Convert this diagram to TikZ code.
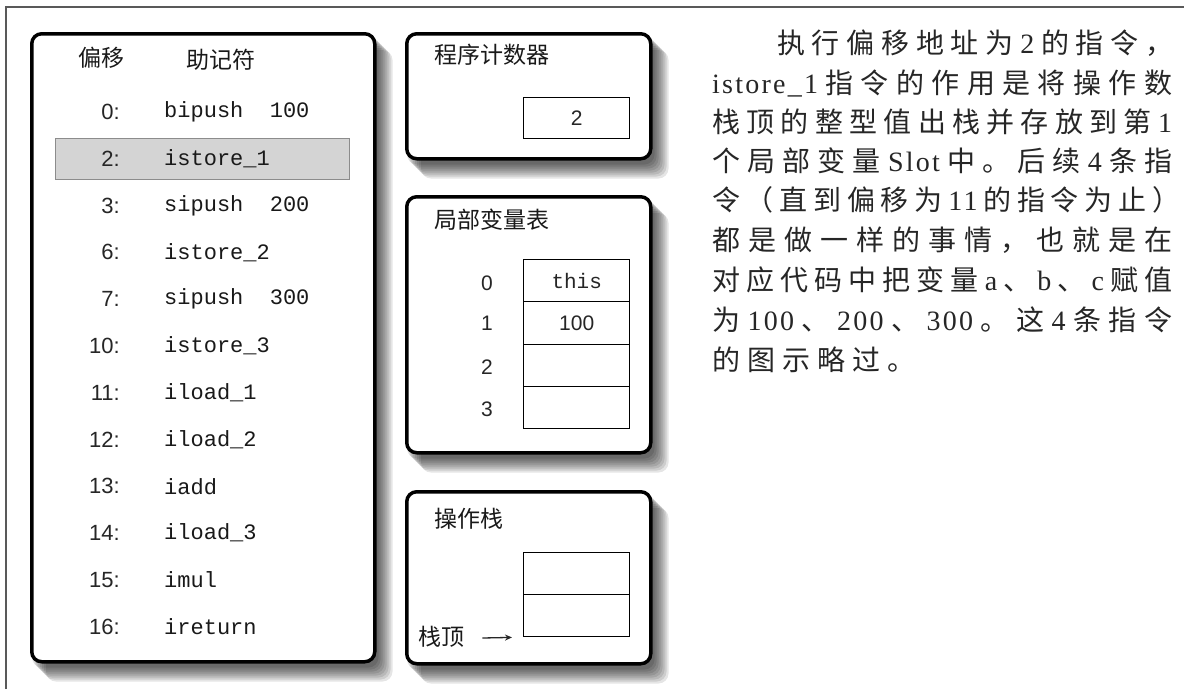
\documentclass[tikz,border=0pt]{standalone}
\usepackage{fontspec}
\usetikzlibrary{arrows.meta}
\newfontfamily\cjk{Noto Sans CJK SC}
\newfontfamily\plat[LetterSpace=8]{Liberation Serif}
\newfontfamily\monof{Liberation Mono}
\newfontfamily\sansf{Liberation Sans}
\makeatletter
\newcommand\jline[2]{\makebox[#1][s]{\cjk\@tfor\jx:=#2\do{{\jx}\hfil}\unskip}}
\newcommand\nline[1]{{\cjk\@tfor\jx:=#1\do{{\jx}\hspace{7pt}}\unskip}}
\makeatother
\pgfdeclarelayer{bg}
\pgfsetlayers{bg,main}
\newcommand\shadowof[1]{%
  \foreach \d in {2,4,...,16}{%
    \fill[black, opacity=0.1, rounded corners=10pt]
      ([shift={(\d pt,-\d pt-2pt)}]#1.north west) rectangle ([shift={(\d pt,-\d pt-2pt)}]#1.south east);}}
\tikzset{
  panel/.style={draw=black, line width=3.5pt, rounded corners=10pt, fill=white, anchor=north west, inner sep=0pt},
  cell/.style={draw=black, line width=1.4pt, anchor=north west, inner sep=0pt, minimum width=106pt, font=\sansf\fontsize{21}{23}\selectfont, text=black!85},
  title/.style={anchor=west, inner sep=0pt, font=\cjk\fontsize{23}{25}\selectfont, text=black!90},
  offs/.style={anchor=east, inner sep=0pt, font=\sansf\fontsize{22}{24}\selectfont, text=black!85},
  mnem/.style={anchor=west, inner sep=0pt, font=\monof\fontsize{22}{24}\selectfont, text=black!90},
  idx/.style={inner sep=0pt, font=\sansf\fontsize{21}{23}\selectfont, text=black!85},
  para/.style={anchor=west, inner sep=0pt, font=\fontsize{28}{30}\selectfont, text=black!85},
}
\begin{document}
\begin{tikzpicture}[x=1pt,y=-1pt]
\useasboundingbox (0,0) rectangle (1184,689);
\begin{pgfonlayer}{bg}
\fill[white] (0,0) rectangle (1184,689);
\end{pgfonlayer}
% outer frame (top and left edges visible)
\draw[line width=2pt, black!65] (6,689) -- (6,7) -- (1184,7);

% left panel
\node[panel, minimum width=343pt, minimum height=628pt] (lbox) at (30,32) {};
\fill[black!17] (55,138) rectangle (349,179);
\draw[black!45, line width=1pt] (55,138) rectangle (349,179);
\node[title] (hoff) at (78,58) {偏移};
\node[title] (hmn) at (186,60) {助记符};
\foreach \o/\m [count=\i from 0] in {0:/bipush\ \ 100, 2:/istore\_1, 3:/sipush\ \ 200, 6:/istore\_2, 7:/sipush\ \ 300, 10:/istore\_3, 11:/iload\_1, 12:/iload\_2, 13:/iadd, 14:/iload\_3, 15:/imul, 16:/ireturn}{
  \node[offs] (o\i) at (120,{112+46.8*\i}) {\o};
  \node[mnem] (m\i) at (164,{112+46.8*\i}) {\m};
}

% program counter
\node[panel, minimum width=244pt, minimum height=125pt] (pc) at (405,32) {};
\node[title] (pct) at (434,55) {程序计数器};
\node[cell, minimum height=41pt] (pcv) at (523,97) {2};

% local variable table
\node[panel, minimum width=244pt, minimum height=256pt] (lvt) at (405,195) {};
\node[title] (lvtt) at (434,220) {局部变量表};
\node[cell, minimum height=42pt, font=\monof\fontsize{21}{23}\selectfont] (v0) at (523,259) {this};
\node[cell, minimum height=42.5pt] (v1) at (523,301) {100};
\node[cell, minimum height=42.5pt] (v2) at (523,343.5) {};
\node[cell, minimum height=42pt] (v3) at (523,386) {};
\node[idx] (i0) at (487,283) {0};
\node[idx] (i1) at (487,323) {1};
\node[idx] (i2) at (487,367) {2};
\node[idx] (i3) at (487,409) {3};

% operand stack
\node[panel, minimum width=244pt, minimum height=172pt] (ops) at (405,490) {};
\node[title] (opst) at (434,519) {操作栈};
\node[cell, minimum height=42pt] (s0) at (523,552) {};
\node[cell, minimum height=42pt] (s1) at (523,594) {};
\node[title] (top) at (418,637) {栈顶};
\draw[line width=1.3pt, -{Stealth[length=7pt,width=6pt]}, black!85] ([xshift=18pt,yshift=-1pt]top.east) -- ([xshift=-11pt]s1.south west);

\begin{pgfonlayer}{bg}
\shadowof{lbox}
\shadowof{pc}
\shadowof{lvt}
\shadowof{ops}
\end{pgfonlayer}

% description text
\node[para] (p1) at (777,43) {\jline{396pt}{执行偏移地址为{\plat 2}的指令，}};
\node[para] (p2) at (712,83) {\jline{460pt}{{\plat istore\_1}指令的作用是将操作数}};
\node[para] (p3) at (712,122) {\jline{460pt}{栈顶的整型值出栈并存放到第{\plat 1}}};
\node[para] (p4) at (712,161) {\jline{460pt}{个局部变量{\plat Slot}中。后续{\plat 4}条指}};
\node[para] (p5) at (712,200) {\jline{468pt}{令（直到偏移为{\plat 11}的指令为止）}};
\node[para] (p6) at (712,240) {\jline{460pt}{都是做一样的事情，也就是在}};
\node[para] (p7) at (712,280) {\jline{460pt}{对应代码中把变量{\plat a}、{\plat b}、{\plat c}赋值}};
\node[para] (p8) at (712,320) {\jline{460pt}{为{\plat 100}、{\plat 200}、{\plat 300}。这{\plat 4}条指令}};
\node[para] (p9) at (712,360) {\nline{的图示略过。}};
\end{tikzpicture}
\end{document}
